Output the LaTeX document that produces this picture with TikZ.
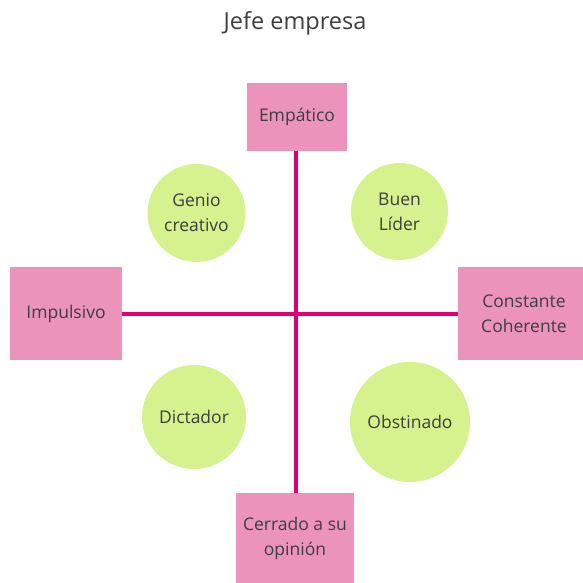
\documentclass[tikz,border=0pt]{standalone}
\usepackage{fontspec}
\setmainfont{Open Sans}
\definecolor{boxpink}{HTML}{EC93BC}
\definecolor{circgreen}{HTML}{D5F28E}
\definecolor{linepink}{HTML}{E0006F}
\definecolor{txt}{HTML}{3E3E3E}
\begin{document}
\begin{tikzpicture}[x=1pt,y=-1pt,
  pbox/.style={fill=boxpink,draw=none,minimum width=#1,inner sep=0pt,align=center,text=txt,font=\fontsize{17.5}{25}\selectfont},
  gcirc/.style={circle,fill=circgreen,draw=none,minimum size=#1,inner sep=0pt,align=center,text=txt,font=\fontsize{17.5}{25}\selectfont},
  axis/.style={draw=linepink,line width=4pt}]
\useasboundingbox (0,0) rectangle (582,583);
\node[text=txt,font=\fontsize{23.5}{28}\selectfont] (title) at (295,23) {Jefe empresa};
\node[pbox=100pt,minimum height=68pt] (emp) at (297,117) {Empático};
\node[pbox=112pt,minimum height=93pt] (imp) at (66,313.5) {Impulsivo};
\node[pbox=132pt,minimum height=93pt] (con) at (524,313.5) {Constante\\Coherente};
\node[pbox=118pt,minimum height=90pt] (cer) at (295,538) {Cerrado a su\\opinión};
\coordinate (c) at (296,313.5);
\draw[axis] (emp.south -| c) -- (cer.north -| c);
\draw[axis] (imp.east |- c) -- (con.west |- c);
\node[gcirc=98pt] (gen) at (196.5,213) {Genio\\creativo};
\node[gcirc=97pt] (bue) at (399.5,211.5) {Buen\\Líder};
\node[gcirc=104pt] (dic) at (194,417) {Dictador};
\node[gcirc=120pt] (obs) at (410,422) {Obstinado};
\end{tikzpicture}
\end{document}
